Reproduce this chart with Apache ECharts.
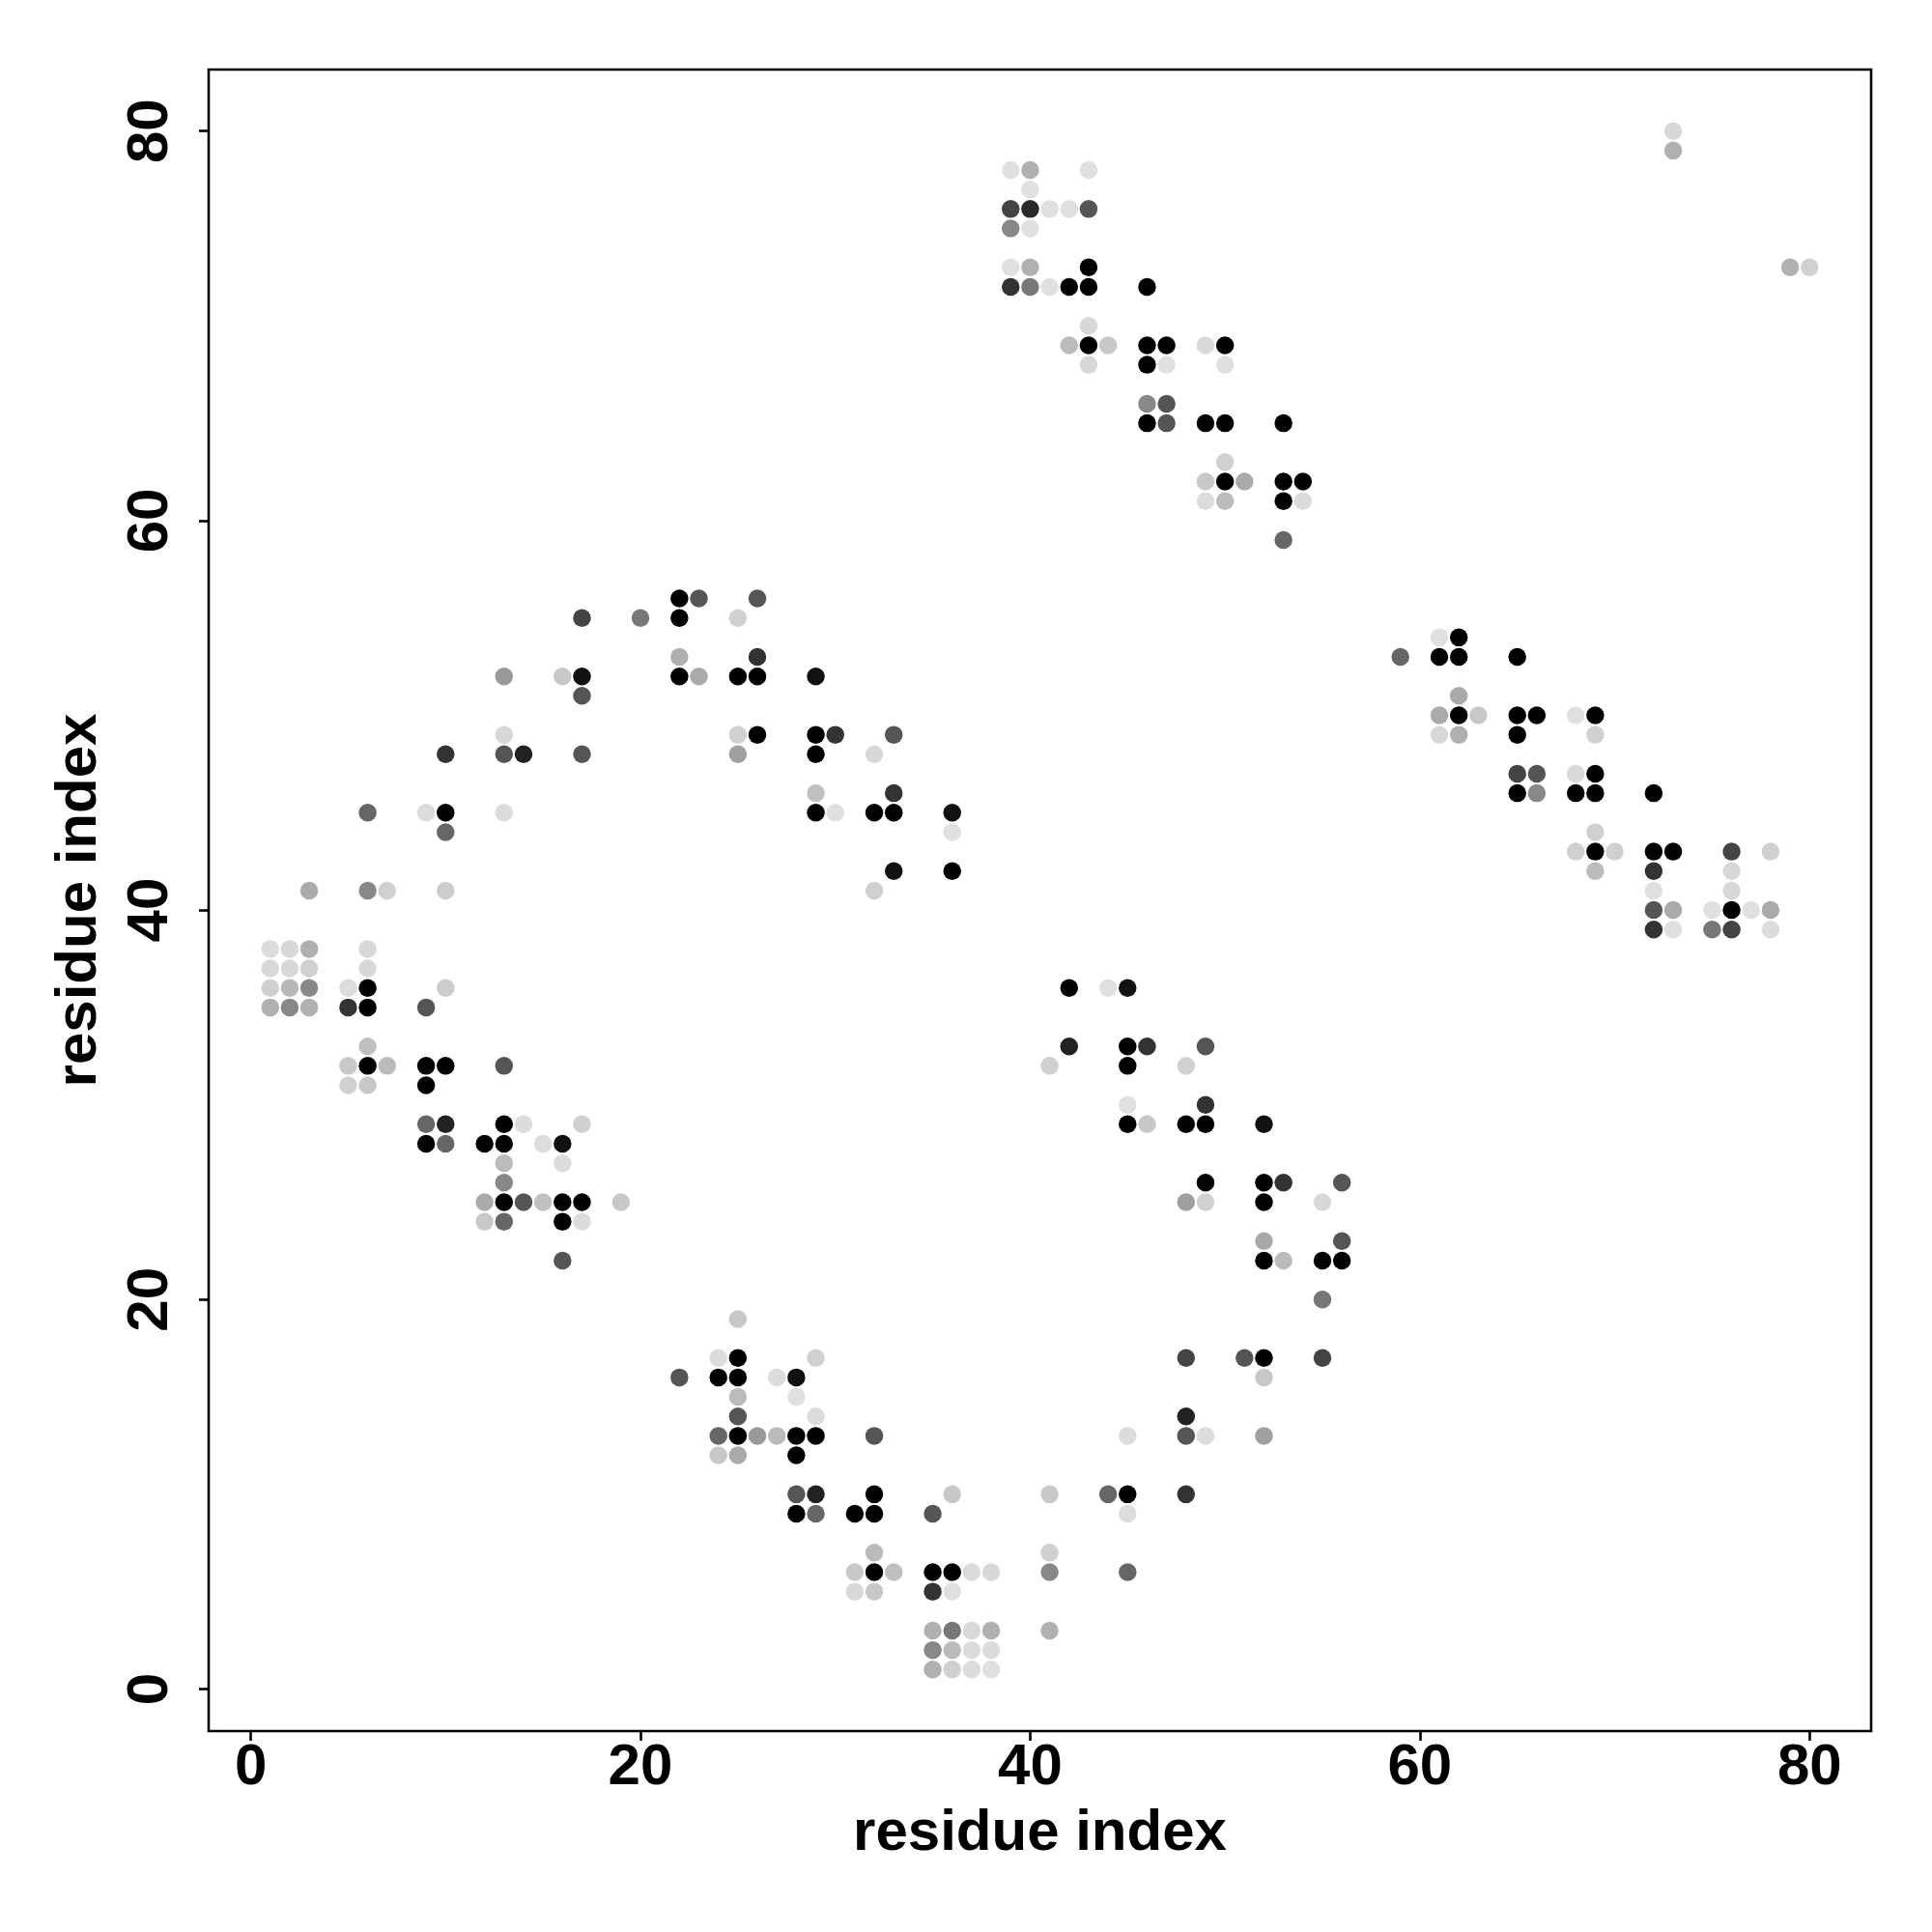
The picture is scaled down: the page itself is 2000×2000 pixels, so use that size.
<!DOCTYPE html>
<html>
<head>
<meta charset="utf-8">
<script src="https://cdn.jsdelivr.net/npm/echarts@6/dist/echarts.min.js"></script>
<style>html,body{margin:0;padding:0;background:#fff}#c{width:2000px;height:2000px}</style>
</head>
<body>
<div id="c"></div>
<script>
// residue index pairs (x, y) and grey level of each contact (0 = black, 255 = white)
const resX = [
 22,23,26, 17,20,22,25, 22,26, 13,16,17,22,23,25,26,29, 17,
 13,25,26,29,30,33, 10,13,14,17,25,29,32, 29,33,
 6,9,10,13,29,30,32,33,36, 10,36, 33,36, 3,6,7,10,32,
 1,2,3,6, 1,2,3,6, 1,2,3,5,6,10, 1,2,3,5,6,9, 6,
 5,6,7,9,10,13, 5,6,9, 9,10,13,14,17, 9,10,12,13,15,16, 13,16, 13,
 12,13,14,15,16,17,19, 12,13,16,17, 16,
 42,44,45, 42,45,46,49, 41,45,48, 45,49, 45,46,48,49,52,
 49,52,53,56, 48,49,52,55, 52,56, 52,53,55,56, 55, 25,
 24,25,29,48,51,52,55, 22,24,25,27,28,52, 25,28, 25,29,48,
 24,25,26,27,28,29,32,45,48,49,52, 24,25,28,
 28,29,32,36,41,44,45,48, 28,29,31,32,35,45, 32,41,
 31,32,33,35,36,37,38,41,45, 31,32,35,36,
 35,36,37,38,41, 35,36,37,38, 35,36,37,38,
 39,40,43, 40, 39,40,41,42,43, 39,40, 39,40,43, 39,40,41,42,43,46, 43,
 42,43,44,46,47,49,50, 43,46,47,50, 46,47, 46,47,49,50,53, 50,
 49,50,51,53,54, 49,50,53,54, 53,
 73,73,79,80,
 61,62, 59,61,62,65, 62, 61,62,63,65,66,68,69, 61,62,65,69,
 65,66,68,69, 65,66,68,69,72, 69, 68,69,70,72,73,76,78,
 69,72,76, 72,76, 72,73,75,76,77,78, 72,73,75,76,78
];
const resY = [
 56,56,56, 55,55,55,55, 53,53, 52,52,52,52,52,52,52,52, 51,
 49,49,49,49,49,49, 48,48,48,48,48,48,48, 46,46,
 45,45,45,45,45,45,45,45,45, 44,44, 42,42, 41,41,41,41,41,
 38,38,38,38, 37,37,37,37, 36,36,36,36,36,36, 35,35,35,35,35,35, 33,
 32,32,32,32,32,32, 31,31,31, 29,29,29,29,29, 28,28,28,28,28,28, 27,27, 26,
 25,25,25,25,25,25,25, 24,24,24,24, 22,
 36,36,36, 33,33,33,33, 32,32,32, 30,30, 29,29,29,29,29,
 26,26,26,26, 25,25,25,25, 23,23, 22,22,22,22, 20, 19,
 17,17,17,17,17,17,17, 16,16,16,16,16,16, 15,15, 14,14,14,
 13,13,13,13,13,13,13,13,13,13,13, 12,12,12,
 10,10,10,10,10,10,10,10, 9,9,9,9,9,9, 7,7,
 6,6,6,6,6,6,6,6,6, 5,5,5,5,
 3,3,3,3,3, 2,2,2,2, 1,1,1,1,
 78,78,78, 77, 76,76,76,76,76, 75,75, 73,73,73, 72,72,72,72,72,72, 70,
 69,69,69,69,69,69,69, 68,68,68,68, 66,66, 65,65,65,65,65, 63,
 62,62,62,62,62, 61,61,61,61, 59,
 80,79,73,73,
 54,54, 53,53,53,53, 51, 50,50,50,50,50,50,50, 49,49,49,49,
 47,47,47,47, 46,46,46,46,46, 44, 43,43,43,43,43,43,43,
 42,42,42, 41,41, 40,40,40,40,40,40, 39,39,39,39,39
];
const shade = [
 0,85,85, 68,119,0,208, 176,51, 153,200,17,0,170,0,0,17, 85,
 216,208,0,0,51,85, 51,85,34,85,160,0,216, 192,51,
 102,220,0,220,0,224,0,0,17, 102,224, 17,0, 170,136,208,204,208,
 220,216,176,216, 216,216,208,216, 208,184,136,220,0,204, 176,136,176,51,0,85, 192,
 200,0,187,0,0,85, 208,200,0, 102,34,0,220,208, 0,102,0,0,220,17, 187,220, 136,
 170,0,85,192,0,0,200, 200,102,0,220, 85,
 0,224,17, 34,0,51,85, 208,0,208, 224,51, 0,200,0,0,17,
 0,0,51,85, 160,208,0,216, 168,85, 0,187,0,0, 119, 200,
 220,0,208,68,85,0,68, 85,0,0,220,17,200, 187,224, 85,220,34,
 102,0,153,187,0,0,85,220,85,220,160, 200,170,0,
 85,34,0,200,200,102,0,51, 0,102,0,0,85,220, 187,208,
 200,0,192,0,0,220,216,136,102, 216,200,51,224,
 176,119,216,176,176, 136,187,220,220, 176,208,220,224,
 224,176,224, 224, 68,42,224,224,85, 136,224, 224,176,0, 51,119,224,0,0,0, 216,
 187,0,200,0,0,216,0, 216,0,224,224, 136,85, 0,85,0,0,0, 208,
 200,0,170,0,0, 220,187,0,220, 102,
 216,176,176,208,
 224,0, 102,0,0,0, 170, 170,0,200,0,0,224,0, 216,176,0,208,
 68,85,216,0, 0,136,0,0,0, 208, 208,0,208,0,0,68,208,
 187,51,216, 224,216, 85,170,224,0,224,170, 51,224,119,68,220
];
const tickValues = [0, 20, 40, 60, 80];
const axisTitle = 'residue index';

const points = resX.map((x, i) => [x, resY[i], shade[i]]);
const FONT = '"Liberation Sans", Arial, Helvetica, sans-serif';

const chart = echarts.init(document.getElementById('c'), null, {renderer: 'canvas'});
const axisCommon = {
  type: 'value',
  min: -2.16,
  max: 83.16,
  name: axisTitle,
  nameLocation: 'middle',
  nameTextStyle: {fontFamily: FONT, fontWeight: 'bold', fontSize: 60, color: '#000'},
  axisLine: {show: false, onZero: false},
  axisTick: {show: true, inside: false, length: 10, customValues: tickValues,
             lineStyle: {color: '#000', width: 2.6}},
  axisLabel: {show: true, customValues: tickValues, fontFamily: FONT, fontWeight: 'bold',
              fontSize: 60, color: '#000'},
  splitLine: {show: false}
};
chart.setOption({
  animation: false,
  backgroundColor: '#fff',
  grid: {left: 216, right: 63, top: 72, bottom: 208, show: true,
         borderColor: '#000', borderWidth: 2.6, backgroundColor: 'transparent'},
  xAxis: Object.assign({}, axisCommon, {
    nameGap: 76,
    axisLabel: Object.assign({}, axisCommon.axisLabel, {margin: 8})
  }),
  yAxis: Object.assign({}, axisCommon, {
    nameGap: 104,
    axisLabel: Object.assign({}, axisCommon.axisLabel, {margin: 30, rotate: 90})
  }),
  series: [{
    type: 'scatter',
    symbol: 'circle',
    symbolSize: 18.5,
    data: points,
    itemStyle: {
      opacity: 1,
      color: p => { const g = p.data[2]; return 'rgb(' + g + ',' + g + ',' + g + ')'; }
    }
  }]
});
</script>
</body>
</html>
